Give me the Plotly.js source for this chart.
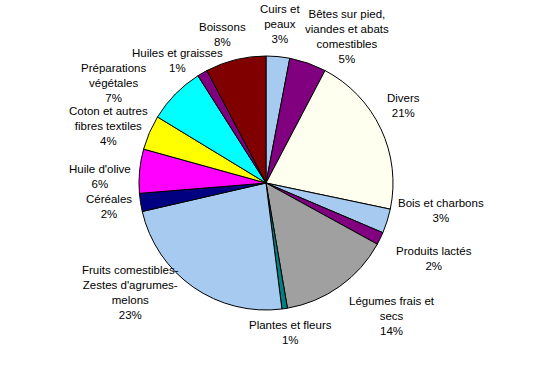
<!DOCTYPE html>
<html><head><meta charset="utf-8">
<script src="https://cdn.plot.ly/plotly-3.0.1.min.js"></script>
<style>html,body{margin:0;padding:0;background:#fff}#chart{width:550px;height:379px}</style>
</head><body><div id="chart"></div>
<script>
const categories = ["Cuirs et peaux","Bêtes sur pied, viandes et abats comestibles","Divers","Bois et charbons","Produits lactés","Légumes frais et secs","Plantes et fleurs","Fruits comestibles-Zestes d'agrumes-melons","Céréales","Huile d'olive","Coton et autres fibres textiles","Préparations végétales","Huiles et graisses","Boissons"];
const labelLines = ["Cuirs et<br>peaux","Bêtes sur pied,<br>viandes et abats<br>comestibles","Divers","Bois et charbons","Produits lactés","Légumes frais et<br>secs","Plantes et fleurs","Fruits comestibles-<br>Zestes d'agrumes-<br>melons","Céréales","Huile d'olive","Coton et autres<br>fibres textiles","Préparations<br>végétales","Huiles et graisses","Boissons"];
const values = [3.0,4.7,20.6,3.1,1.6,14.3,0.7,23.4,2.3,5.6,4.4,7.3,1.3,7.7];
const colors = ["#A6CAF0","#800080","#FFFFF0","#A6CAF0","#800080","#A0A0A0","#008080","#A6CAF0","#000080","#FF00FF","#FFFF00","#00FFFF","#800080","#800000"];
// label centres in pixels (layout only)
const labelPos = [[280,24],[347,36],[403,106],[441,210],[434,258],[392,316],[290,332],[130,292],[109,206],[100,176],[108,126],[113,83],[177,60],[222,34]];

const W=550,H=379, cx=266, cy=183, r=127;
const total = values.reduce((a,b)=>a+b,0);
const annotations = categories.map((c,i)=>({
  text: labelLines[i]+"<br>"+Math.round(values[i]/total*100)+"%",
  x: labelPos[i][0]/W, y: 1-labelPos[i][1]/H, xref:"paper", yref:"paper",
  xanchor:"center", yanchor:"middle", showarrow:false, align:"center",
  font:{family:"Liberation Sans, Arial, sans-serif", size:11.5, color:"#000"}
}));

Plotly.newPlot("chart",[{
  type:"pie", labels:categories, values:values, sort:false, direction:"clockwise", rotation:0,
  marker:{colors:colors, line:{color:"#000", width:1}}, textinfo:"none", hoverinfo:"label+percent",
  domain:{x:[(cx-r)/W,(cx+r)/W], y:[(H-cy-r)/H,(H-cy+r)/H]}
}],{
  width:W, height:H, margin:{l:0,r:0,t:0,b:0}, showlegend:false,
  paper_bgcolor:"#fff", annotations:annotations
},{displayModeBar:false, staticPlot:true});
</script></body></html>
